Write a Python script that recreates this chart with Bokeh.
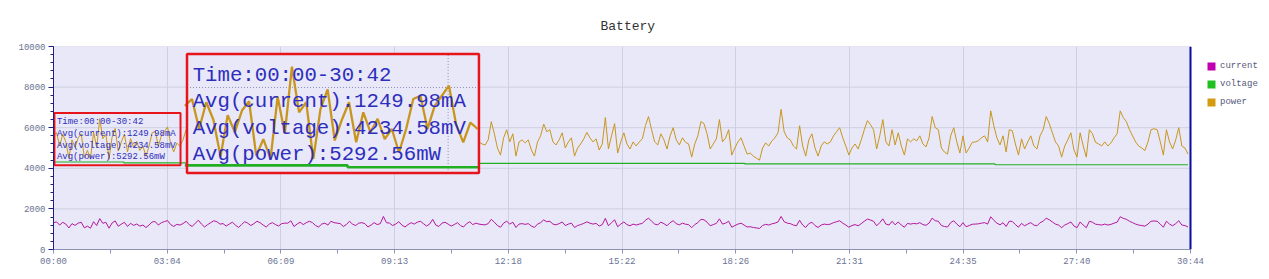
import numpy as np
from bokeh.plotting import figure
from bokeh.models import (Range1d, FixedTicker, SingleIntervalTicker, Span, Label,
                          Legend, LegendItem, CustomJSTickFormatter)
from bokeh.embed import file_html
from bokeh.resources import INLINE

# ---------------- data ----------------
SAMPLE_STEP = 5  # seconds between samples
X_END = 1844     # 30:44
Y_END = 10000

power = [
    5600, 5750, 5100, 5680, 5300, 4500, 5400, 5030, 5500, 5700,
    4520, 4880, 4450, 5800, 5000, 6450, 5460, 5680, 4450, 5530,
    5960, 4850, 5300, 5680, 4810, 5460, 5030, 5320, 4880, 5100,
    4590, 5100, 5750, 5820, 5100, 5600, 5820, 6040, 5200, 4810,
    5240, 5100,
    5400, 5900, 5200, 4800, 5500, 6100, 5300, 4700, 5200, 5600,
    6000, 5800, 5300, 5400, 4900, 5300, 5700, 5100, 4600, 5200,
    5800, 5500, 5000, 5400, 5900, 5600, 5100, 4700, 5300, 5600,
    5200, 4900, 5400, 5500, 5500, 6000, 4800, 5300, 5700, 5200,
    5600, 5900, 5600, 5000, 4700, 5300, 5500, 5100, 5900, 5600,
    5500, 5400, 4800, 5200, 5900, 5300, 5000, 5500, 5600, 5400,
    4700, 5100, 5600, 5200, 5400, 6900, 5600, 5500, 5000, 5300,
    5800, 5100, 4700, 5200, 5600, 5300, 5700, 5900, 5400, 4900,
    5300, 6300, 5100, 4800, 5500, 5700, 5300, 4900, 5200, 5600,
    5000, 4700, 5400, 5800, 5200, 5500, 5300,
    5200, 5150, 5400, 6300, 5700, 5000, 4650, 5500, 5900, 5300,
    5700, 4600, 5300, 5400, 5250, 5400, 4900, 4600, 5300, 5600,
    6180, 5800, 5900, 5300, 5150, 5400, 5750, 5000, 5300, 5500,
    4600, 5000, 5200, 5450, 5770, 5500, 5300, 5450, 4900, 5200,
    6500, 4950, 5600, 6200, 4750, 5300, 5750, 5200, 4950, 5300,
    5100, 5300, 5450, 6100, 6550, 5900, 5300, 5150, 5700, 5400,
    4950, 5600, 6000, 5400, 5150,
    5500, 5280, 5200, 4550, 5200, 5600, 6300, 6200, 5700, 4950,
    5200, 5450, 6400, 5300, 5500, 5900, 4650, 5000, 5300, 5500,
    5100, 4700, 4750, 4600, 4500, 4400, 5000, 5250, 5100, 5350,
    5500, 5750, 6900, 5800, 5500, 5400, 5100, 4950, 6100, 5100,
    4600, 5400, 5700, 5000, 4600, 5100, 5300, 5200, 5300, 5600,
    5800, 6000, 5500, 5100, 4650, 5000, 5200, 4950, 5400, 5900,
    6350, 6150, 5900, 4950, 5600, 6400, 5300, 5100, 5900, 5150,
    5750, 5100, 4650, 5450, 5300, 5450, 5350, 5600, 5200, 5050,
    5500, 6550, 6000,
    5900, 5000, 4800, 4700, 5600, 6000, 5300, 4750, 5600, 4750,
    5000, 5280, 5300, 5360, 5500, 5600, 5300, 6830, 6100, 5500,
    5150, 5600, 4800, 5900, 5850, 5200, 4650, 5450, 4950, 5300,
    5600, 5100, 4950, 5600, 5900, 6550, 6200, 5750, 5300, 5100,
    4550, 5100, 5400, 5750, 4900, 4550, 5750, 5100, 4550, 5900,
    5700, 5280, 5200, 5100, 5300, 5100, 5250, 5500, 5700, 6830,
    6500, 6300, 5900, 5600, 5300, 5100, 5000, 4870, 5300, 5900,
    5950, 5900, 5300, 4650, 5900, 5300, 4950, 5400, 6000, 5100,
    5000, 4700,
]

current = [
    1322, 1357, 1204, 1340, 1251, 1062, 1274, 1187, 1298, 1345,
    1067, 1152, 1050, 1369, 1180, 1522, 1289, 1340, 1050, 1305,
    1407, 1145, 1251, 1340, 1135, 1289, 1187, 1256, 1152, 1204,
    1083, 1204, 1357, 1374, 1204, 1322, 1374, 1425, 1227, 1135,
    1237, 1204,
    1274, 1392, 1227, 1133, 1298, 1440, 1251, 1109, 1227, 1322,
    1416, 1369, 1251, 1274, 1156, 1251, 1345, 1204, 1086, 1227,
    1369, 1298, 1180, 1274, 1392, 1322, 1204, 1109, 1251, 1322,
    1227, 1156, 1274, 1298, 1298, 1416, 1133, 1251, 1345, 1227,
    1322, 1392, 1322, 1180, 1109, 1251, 1298, 1204, 1392, 1322,
    1298, 1274, 1133, 1227, 1392, 1251, 1180, 1298, 1322, 1274,
    1109, 1204, 1322, 1227, 1274, 1628, 1322, 1298, 1180, 1251,
    1369, 1204, 1109, 1227, 1322, 1251, 1345, 1392, 1274, 1156,
    1251, 1487, 1204, 1133, 1298, 1345, 1251, 1156, 1227, 1322,
    1180, 1109, 1274, 1369, 1227, 1298, 1251,
    1227, 1215, 1274, 1487, 1345, 1180, 1097, 1298, 1392, 1251,
    1345, 1086, 1251, 1274, 1239, 1274, 1156, 1086, 1251, 1322,
    1458, 1369, 1392, 1251, 1215, 1274, 1357, 1180, 1251, 1298,
    1086, 1180, 1227, 1286, 1362, 1298, 1251, 1286, 1156, 1227,
    1534, 1168, 1322, 1463, 1121, 1251, 1357, 1227, 1168, 1251,
    1204, 1251, 1286, 1440, 1546, 1392, 1251, 1215, 1345, 1274,
    1168, 1322, 1416, 1274, 1215,
    1298, 1246, 1227, 1074, 1227, 1322, 1487, 1463, 1345, 1168,
    1227, 1286, 1510, 1251, 1298, 1392, 1097, 1180, 1251, 1298,
    1204, 1109, 1121, 1086, 1062, 1038, 1180, 1239, 1204, 1263,
    1298, 1357, 1628, 1369, 1298, 1274, 1204, 1168, 1440, 1204,
    1086, 1274, 1345, 1180, 1086, 1204, 1251, 1227, 1251, 1322,
    1369, 1416, 1298, 1204, 1097, 1180, 1227, 1168, 1274, 1392,
    1499, 1451, 1392, 1168, 1322, 1510, 1251, 1204, 1392, 1215,
    1357, 1204, 1097, 1286, 1251, 1286, 1263, 1322, 1227, 1192,
    1298, 1546, 1416,
    1392, 1180, 1133, 1109, 1322, 1416, 1251, 1121, 1322, 1121,
    1180, 1246, 1251, 1265, 1298, 1322, 1251, 1612, 1440, 1298,
    1215, 1322, 1133, 1392, 1381, 1227, 1097, 1286, 1168, 1251,
    1322, 1204, 1168, 1322, 1392, 1546, 1463, 1357, 1251, 1204,
    1074, 1204, 1274, 1357, 1156, 1074, 1357, 1204, 1074, 1392,
    1345, 1246, 1227, 1204, 1251, 1204, 1239, 1298, 1345, 1612,
    1534, 1487, 1392, 1322, 1251, 1204, 1180, 1149, 1251, 1392,
    1404, 1392, 1251, 1097, 1392, 1251, 1168, 1274, 1416, 1204,
    1180, 1109,
]

voltage_t = [0, 114, 114, 650, 650, 1121, 1121, 1527, 1527, 1840]
voltage_v = [4310, 4310, 4270, 4270, 4245, 4245, 4215, 4215, 4175, 4175]

x_tick_labels = ["00:00", "03:04", "06:09", "09:13", "12:18", "15:22",
                 "18:26", "21:31", "24:35", "27:40", "30:44"]
y_ticks = [0, 2000, 4000, 6000, 8000, 10000]
series_names = ["current", "voltage", "power"]
summary_lines = ["Time:00:00-30:42", "Avg(current):1249.98mA",
                 "Avg(voltage):4234.58mV", "Avg(power):5292.56mW"]

times = [SAMPLE_STEP * i for i in range(len(power))]
cur_times = [SAMPLE_STEP * i for i in range(len(current))]

# ---------------- styles / geometry ----------------
BG = "#e8e8f8"
GRID = "#cdd0e4"
C_CUR, C_VOL, C_POW = "#b4179c", "#22b022", "#c8961e"
LEG_CUR, LEG_VOL, LEG_POW = "#c000b0", "#20c020", "#d49a10"
RED = "#e8141c"
TXT_BLUE = "#2e2ebd"
FONT = "Liberation Mono"

W, H = 1269, 279
LEFT, RIGHT_AREA = 53, 1190          # plot area pixel edges
FRAME_W = W - LEFT                   # frame runs to the right edge (legend lives there)
X_VIEW_END = X_END * FRAME_W / (RIGHT_AREA - LEFT)

SMALL = (1.5, 206.0, 4147.0, 6724.0)   # left, right, bottom, top (data units)
BIG = (216.5, 690.0, 3773.0, 9627.0)
KX = (BIG[1] - BIG[0]) / (SMALL[1] - SMALL[0])
KY = (BIG[3] - BIG[2]) / (SMALL[3] - SMALL[2])


def mag_x(t):
    return BIG[0] + (t - SMALL[0]) * KX


def mag_y(v):
    return BIG[2] + (v - SMALL[2]) * KY


p = figure(width=W, height=H, output_backend="svg", toolbar_location=None,
           x_range=Range1d(0, X_VIEW_END), y_range=Range1d(0, Y_END),
           min_border_left=LEFT, min_border_right=0, min_border_top=46, min_border_bottom=30,
           background_fill_color="white", border_fill_color="white", outline_line_color=None,
           title="Battery")
p.title.align = "left"
p.title.offset = 547
p.title.standoff = 25
p.title.text_font = FONT
p.title.text_font_size = "13px"
p.title.text_font_style = "normal"
p.title.text_color = "#333333"

# plot-area background (drawn beneath the grid)
p.quad(left=[0], right=[X_END], bottom=[0], top=[Y_END], fill_color=BG, line_color=None,
       level="image")

# x axis
step = X_END / 10
xt = [round(i * step, 3) for i in range(11)]
xminor = [round((i + 0.5) * step, 3) for i in range(10)]
xticker = FixedTicker(ticks=xt, minor_ticks=xminor)
p.xaxis.ticker = xticker
p.xaxis.bounds = (0, X_END)
p.xgrid.ticker = xticker
p.xaxis.formatter = CustomJSTickFormatter(args=dict(labels=x_tick_labels, step=step),
                                          code="return labels[Math.round(tick / step)];")
p.xaxis.axis_line_color = "#8d93b3"
p.xaxis.major_tick_line_color = "#8d93b3"
p.xaxis.minor_tick_line_color = "#8d93b3"
p.xaxis.major_tick_out = 4
p.xaxis.major_tick_in = 0
p.xaxis.minor_tick_out = 4
p.xaxis.minor_tick_in = 0
p.xaxis.major_label_standoff = 3
p.xaxis.major_label_text_font = FONT
p.xaxis.major_label_text_font_size = "9px"
p.xaxis.major_label_text_color = "#6b7394"

# y axis
p.yaxis.ticker = SingleIntervalTicker(interval=2000, num_minor_ticks=5)
p.yaxis.axis_line_color = "#1e1e88"
p.yaxis.major_tick_line_color = "#1e1e88"
p.yaxis.minor_tick_line_color = "#1e1e88"
p.yaxis.major_tick_out = 5
p.yaxis.major_tick_in = 0
p.yaxis.minor_tick_out = 3
p.yaxis.minor_tick_in = 0
p.yaxis.major_label_standoff = 3
p.yaxis.major_label_text_font = FONT
p.yaxis.major_label_text_font_size = "9px"
p.yaxis.major_label_text_color = "#6b7394"

p.xgrid.grid_line_color = GRID
p.ygrid.grid_line_color = None
# horizontal grid lines only across the plot area
p.segment(x0=[0] * len(y_ticks), x1=[X_END] * len(y_ticks), y0=y_ticks, y1=y_ticks,
          line_color=GRID, line_width=1, level="underlay")

p.add_layout(Span(location=X_END, dimension="height", line_color="#0a0aa0", line_width=2))

# main series
p.line(cur_times, current, line_color=C_CUR, line_width=1)
p.line(voltage_t, voltage_v, line_color=C_VOL, line_width=1.2)
p.line(times, power, line_color=C_POW, line_width=1)

# small summary box (no fill)
p.quad(left=[SMALL[0]], right=[SMALL[1]], bottom=[SMALL[2]], top=[SMALL[3]],
       fill_color=None, line_color=RED, line_width=2)

# magnified view
p.quad(left=[BIG[0]], right=[BIG[1]], bottom=[BIG[2]], top=[BIG[3]],
       fill_color=BG, line_color=None)
gx = [t for t in xt if SMALL[0] < t < SMALL[1]]
gy = [v for v in y_ticks if SMALL[2] < v < SMALL[3]]
if gx:
    p.segment(x0=[mag_x(t) for t in gx], x1=[mag_x(t) for t in gx],
              y0=[BIG[2]] * len(gx), y1=[BIG[3]] * len(gx),
              line_color="#8c8cb8", line_dash="1 2", line_width=1)
if gy:
    p.segment(x0=[BIG[0]] * len(gy), x1=[BIG[1]] * len(gy),
              y0=[mag_y(v) for v in gy], y1=[mag_y(v) for v in gy],
              line_color="#8c8cb8", line_dash="1 2", line_width=1)

mp_t = [t for t in times if t <= SMALL[1]]
mp_v = power[:len(mp_t)]
p.line([mag_x(t) for t in mp_t], [mag_y(v) for v in mp_v], line_color=C_POW, line_width=2.3)
mv_t = [t for t in voltage_t if t <= SMALL[1]] + [SMALL[1]]
mv_v = voltage_v[:len(mv_t) - 1] + [float(np.interp(SMALL[1], voltage_t, voltage_v))]
p.line([mag_x(t) for t in mv_t], [mag_y(v) for v in mv_v], line_color=C_VOL, line_width=2.6)

# summary texts
TX = 5.5
TY0 = 6262
TGAP = 574
for i, line in enumerate(summary_lines):
    y = TY0 - i * TGAP
    p.add_layout(Label(x=TX, y=y, text=line, text_font=FONT, text_font_size="9px",
                       text_color=TXT_BLUE, text_baseline="middle", text_align="left"))
    p.add_layout(Label(x=mag_x(TX), y=mag_y(y), text=line, text_font=FONT,
                       text_font_size="20.7px", text_color=TXT_BLUE,
                       text_baseline="middle", text_align="left"))

p.quad(left=[BIG[0]], right=[BIG[1]], bottom=[BIG[2]], top=[BIG[3]],
       fill_color=None, line_color=RED, line_width=2.5)

# legend with square swatches (NaN placeholder quads so only the swatch shows)
nan = float("nan")
sw = [p.quad(left=[nan], right=[nan], bottom=[nan], top=[nan], fill_color=c, line_color=None)
      for c in (LEG_CUR, LEG_VOL, LEG_POW)]
legend = Legend(items=[LegendItem(label=n, renderers=[r]) for n, r in zip(series_names, sw)],
                location=(1153, 140), orientation="vertical",
                glyph_width=10, glyph_height=10, label_height=15, spacing=3,
                padding=4, margin=0, border_line_color=None, background_fill_alpha=0,
                label_text_font=FONT, label_text_font_size="9px",
                label_text_color="#55597a", label_standoff=4)
p.add_layout(legend, "center")

open("out.html", "w").write(file_html(p, INLINE))
